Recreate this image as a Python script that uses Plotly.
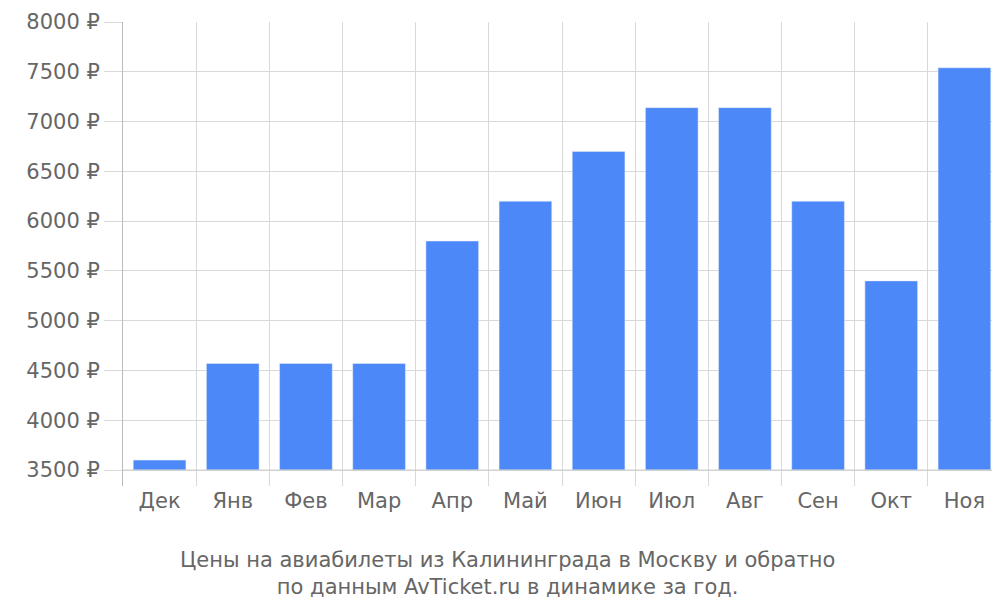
import plotly.graph_objects as go

months = ['Дек', 'Янв', 'Фев', 'Мар', 'Апр', 'Май', 'Июн', 'Июл', 'Авг', 'Сен', 'Окт', 'Ноя']
prices = [3600, 4570, 4570, 4570, 5800, 6200, 6700, 7140, 7140, 6200, 5400, 7540]
y_ticks = list(range(3500, 8001, 500))
y_labels = [f'{v} ₽' for v in y_ticks]
caption = 'Цены на авиабилеты из Калининграда в Москву и обратно<br>по данным AvTicket.ru в динамике за год.'

fig = go.Figure(go.Bar(x=months, y=[p - 3500 for p in prices], base=3500,
                       marker_color='#4d88f9', width=0.72, hoverinfo='skip'))

fig.update_layout(
    width=1000, height=600, plot_bgcolor='white', paper_bgcolor='white',
    margin=dict(l=115, r=7, t=14, b=122),
    font=dict(family='DejaVu Sans', size=21, color='#666666'),
    showlegend=False,
)
fig.update_xaxes(tickson='boundaries', showgrid=True, gridcolor='#d9d9d9', ticks='',
                 showline=False, tickfont=dict(size=21), automargin=False)
fig.update_yaxes(range=[3340, 8000], tickvals=y_ticks, ticktext=y_labels,
                 showgrid=True, gridcolor='#d9d9d9', zeroline=False,
                 showline=True, linecolor='#bbbbbb', ticks='outside', ticklen=18,
                 tickcolor='#d9d9d9', tickfont=dict(size=21), automargin=False)
fig.add_hline(y=3500, line_color='#cccccc', line_width=1)
fig.add_annotation(text=caption, xref='paper', yref='paper', x=0.438, y=-0.13,
                   xanchor='center', yanchor='top', showarrow=False,
                   font=dict(size=21, color='#666666'))

fig.write_html('out.html')
